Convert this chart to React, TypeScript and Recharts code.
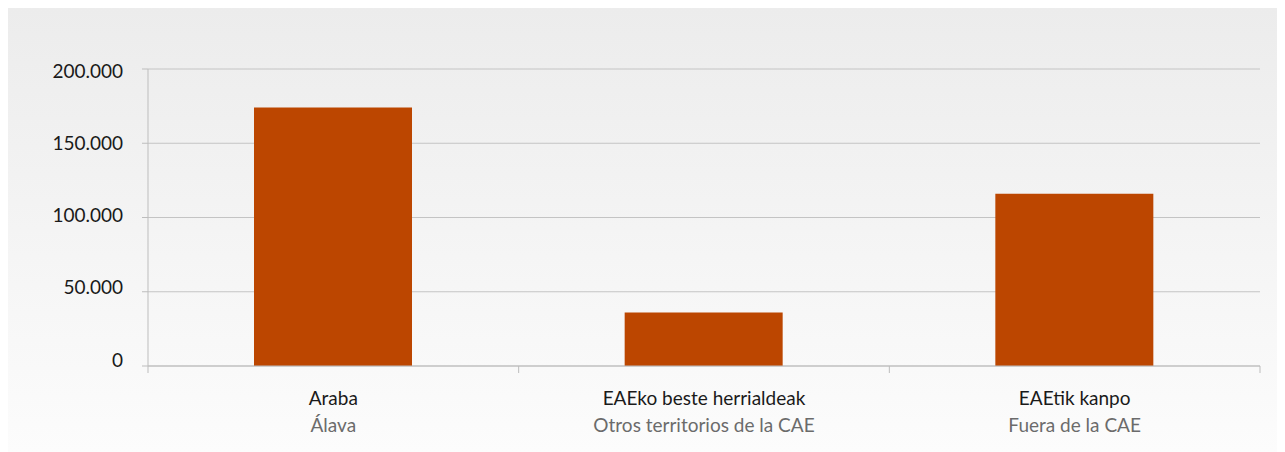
import React from "react";
import { BarChart, Bar, XAxis, YAxis, CartesianGrid } from "recharts";

const labelsEu = ["Araba", "EAEko beste herrialdeak", "EAEtik kanpo"];
const labelsEs = ["Álava", "Otros territorios de la CAE", "Fuera de la CAE"];
const values = [174000, 36000, 116000];
const yTicks = [0, 50000, 100000, 150000, 200000];

const data = labelsEu.map((eu, i) => ({ eu, es: labelsEs[i], value: values[i] }));

const W = 1270;
const H = 445;
const LEFT = 140;
const RIGHT = 18;
const BAND = (W - LEFT - RIGHT) / data.length;
const FONT = "Lato, 'Open Sans', sans-serif";
const AXIS = "#bdbdbd";

const fmt = (v: number) => v.toLocaleString("de-DE");

const XTick = (props: any) => {
  const { x, y, index } = props;
  const d = data[index];
  const half = BAND / 2;
  return (
    <g>
      <line x1={x - half} y1={y} x2={x - half} y2={y + 7} stroke={AXIS} />
      {index === data.length - 1 && (
        <line x1={x + half} y1={y} x2={x + half} y2={y + 7} stroke={AXIS} />
      )}
      <text x={x} y={y + 39} textAnchor="middle" fontSize={19} fill="#1a1a1a" fontFamily={FONT}>
        {d.eu}
      </text>
      <text x={x} y={y + 66} textAnchor="middle" fontSize={19} fill="#6b6b6b" fontFamily={FONT}>
        {d.es}
      </text>
    </g>
  );
};

// the original labels sit slightly off their gridlines, more so near the bottom
const YTick = (props: any) => {
  const { x, y, index, payload } = props;
  return (
    <text
      x={x}
      y={y - 6 + 2 * index}
      dy="0.355em"
      textAnchor="end"
      fontSize={19}
      fill="#1a1a1a"
      fontFamily={FONT}
    >
      {fmt(payload.value)}
    </text>
  );
};

export default function App() {
  return (
    <div
      style={{
        width: W,
        height: H,
        marginTop: -1,
        background: "linear-gradient(to bottom, #ececec 0%, #fcfcfc 100%)",
      }}
    >
      <BarChart
        width={W}
        height={H}
        data={data}
        margin={{ top: 62, right: RIGHT, left: 0, bottom: 6 }}
        barSize={158}
      >
        <CartesianGrid vertical={false} stroke="#c4c4c4" />
        <XAxis
          dataKey="eu"
          height={80}
          stroke={AXIS}
          tickLine={false}
          tickSize={0}
          tickMargin={0}
          interval={0}
          tick={<XTick />}
        />
        <YAxis
          width={LEFT}
          domain={[0, 200000]}
          ticks={yTicks}
          stroke={AXIS}
          tickSize={6}
          tickMargin={19}
          tick={<YTick />}
        />
        <Bar dataKey="value" fill="#bc4600" isAnimationActive={false} />
      </BarChart>
    </div>
  );
}
